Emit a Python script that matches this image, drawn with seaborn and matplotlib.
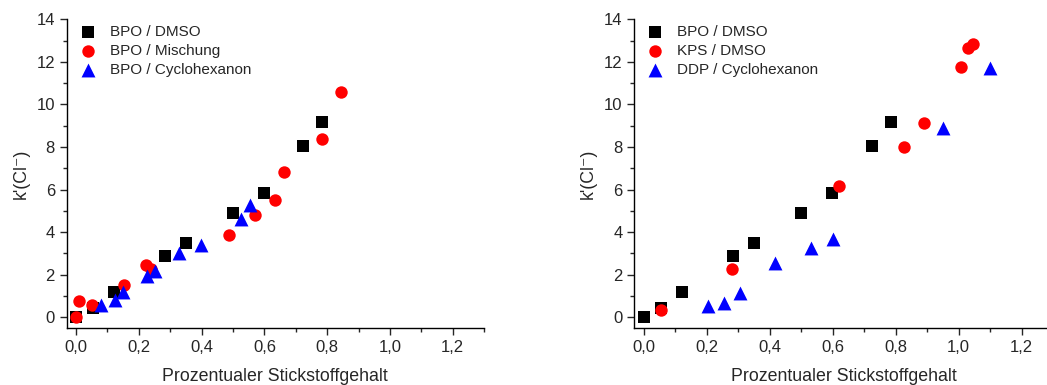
#! /usr/bin/env python
import numpy as np
import pandas as pd
import seaborn as sns
from matplotlib import pyplot as plt
from matplotlib.ticker import MultipleLocator

# left panel
bpo_dmso_x = [0.0, 0.055, 0.122, 0.284, 0.349, 0.499, 0.598, 0.724, 0.784]
bpo_dmso_y = [0.0, 0.44, 1.17, 2.90, 3.49, 4.90, 5.83, 8.07, 9.17]
bpo_misch_x = [0.0, 0.010, 0.050, 0.154, 0.223, 0.240, 0.488, 0.569, 0.634, 0.663, 0.784, 0.845]
bpo_misch_y = [0.0, 0.78, 0.59, 1.50, 2.47, 2.25, 3.85, 4.82, 5.52, 6.85, 8.37, 10.57]
bpo_cyc_x = [0.080, 0.124, 0.149, 0.225, 0.251, 0.329, 0.398, 0.524, 0.554]
bpo_cyc_y = [0.59, 0.83, 1.17, 1.96, 2.16, 3.02, 3.41, 4.63, 5.26]

# right panel
kps_dmso_x = [0.054, 0.279, 0.621, 0.826, 0.889, 1.009, 1.029, 1.047]
kps_dmso_y = [0.33, 2.27, 6.15, 8.02, 9.12, 11.78, 12.67, 12.84]
ddp_cyc_x = [0.205, 0.255, 0.305, 0.416, 0.530, 0.600, 0.949, 1.100]
ddp_cyc_y = [0.52, 0.67, 1.14, 2.55, 3.25, 3.68, 8.88, 11.70]

left_labels = ["BPO / DMSO", "BPO / Mischung", "BPO / Cyclohexanon"]
right_labels = ["BPO / DMSO", "KPS / DMSO", "DDP / Cyclohexanon"]

x_ticks = [0.0, 0.2, 0.4, 0.6, 0.8, 1.0, 1.2]
x_tick_labels = ["0,0", "0,2", "0,4", "0,6", "0,8", "1,0", "1,2"]
y_ticks = [0, 2, 4, 6, 8, 10, 12, 14]


def make_df(series, labels):
    frames = []
    for (xs, ys), lab in zip(series, labels):
        frames.append(pd.DataFrame({"x": xs, "y": ys, "series": lab}))
    return pd.concat(frames, ignore_index=True)


def draw(ax, df, labels):
    colors = ["black", "#ff0000", "#0000ff"]
    marks = ["s", "o", "^"]
    sizes = [63, 80, 100]
    for lab, c, m, s in zip(labels, colors, marks, sizes):
        sub = df[df.series == lab]
        sns.scatterplot(data=sub, x="x", y="y", ax=ax, color=c, marker=m,
                        s=s, linewidth=0, label=lab, zorder=3)
    ax.set_xlim(-0.03, 1.3)
    ax.set_ylim(-0.5, 14)
    ax.set_xticks(x_ticks)
    ax.set_xticklabels(x_tick_labels)
    ax.set_yticks(y_ticks)
    ax.xaxis.set_minor_locator(MultipleLocator(0.1))
    ax.yaxis.set_minor_locator(MultipleLocator(1))
    ax.tick_params(which="major", length=5, width=1, labelsize=12, direction="out")
    ax.tick_params(which="minor", length=3, width=1, direction="out")
    for side in ["top", "right"]:
        ax.spines[side].set_visible(False)
    for side in ["left", "bottom"]:
        ax.spines[side].set_linewidth(1)
        ax.spines[side].set_color("black")
    ax.set_xlabel("Prozentualer Stickstoffgehalt", fontsize=12.8, labelpad=9.5)
    ax.set_ylabel("k'(Cl⁻)", fontsize=12.8, labelpad=5)
    ax.legend(loc="upper left", bbox_to_anchor=(-0.012, 1.015), frameon=False,
              fontsize=11, handletextpad=0.45, labelspacing=0.33,
              borderaxespad=0.3, markerscale=1.0)


def main() -> None:
    sns.set_style("ticks")
    plt.rcParams["font.family"] = ["Liberation Sans", "DejaVu Sans"]
    fig = plt.figure(figsize=(10.47, 3.85), dpi=100)
    ax1 = fig.add_axes([0.0637, 0.148, 0.3986, 0.802])
    ax2 = fig.add_axes([0.6058, 0.148, 0.4, 0.802])

    left = make_df([(bpo_dmso_x, bpo_dmso_y), (bpo_misch_x, bpo_misch_y),
                    (bpo_cyc_x, bpo_cyc_y)], left_labels)
    right = make_df([(bpo_dmso_x, bpo_dmso_y), (kps_dmso_x, kps_dmso_y),
                     (ddp_cyc_x, ddp_cyc_y)], right_labels)
    draw(ax1, left, left_labels)
    draw(ax2, right, right_labels)
    fig.savefig("out.png", dpi=100)


if __name__ == "__main__":
    main()
